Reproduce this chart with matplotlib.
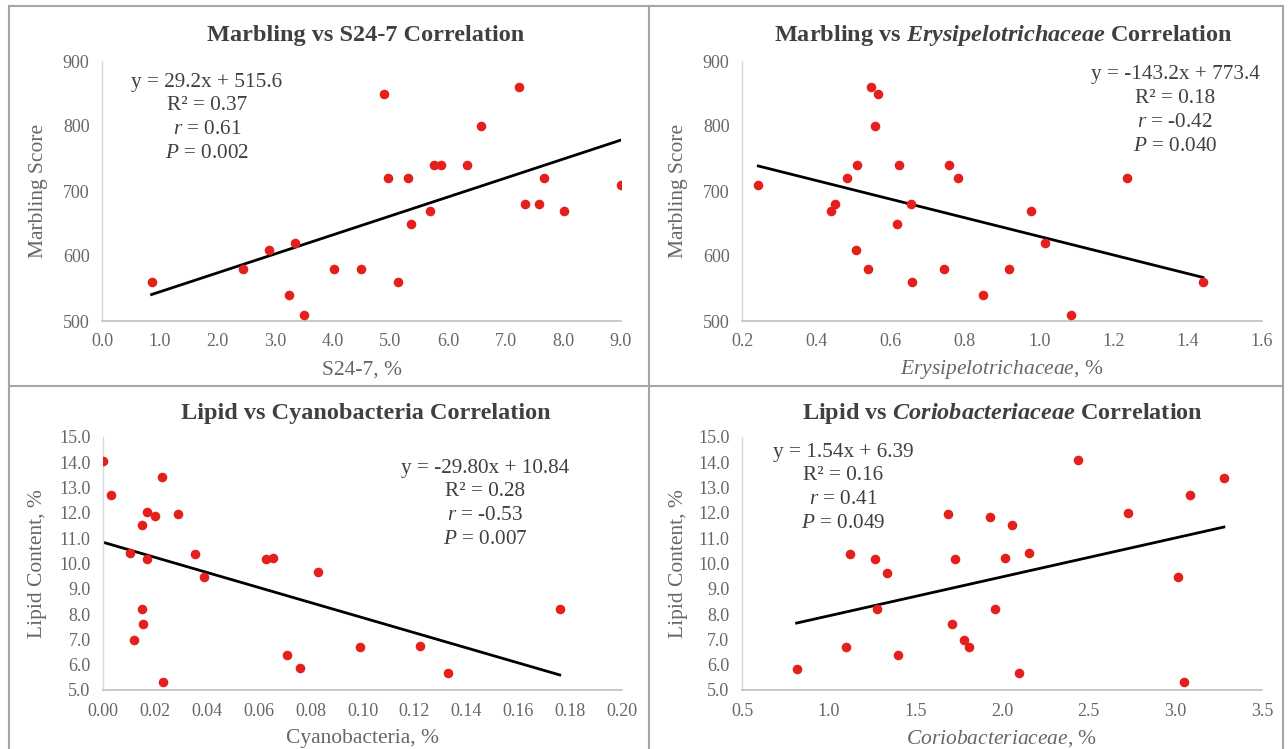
import numpy as np
import matplotlib
matplotlib.use('Agg')
import matplotlib.pyplot as plt
from matplotlib.lines import Line2D
from matplotlib.ticker import FormatStrFormatter

plt.rcParams['font.family'] = ['Liberation Serif', 'DejaVu Serif']
plt.rcParams['mathtext.fontset'] = 'custom'
plt.rcParams['mathtext.rm'] = 'Liberation Serif'
plt.rcParams['mathtext.it'] = 'Liberation Serif:italic'
plt.rcParams['mathtext.bf'] = 'Liberation Serif:bold'
plt.rcParams['mathtext.bfit'] = 'Liberation Serif:bold:italic'

# S24-7 vs marbling
s24_x = [0.86, 2.44, 2.9, 3.25, 3.35, 3.5, 4.02, 4.49, 4.89, 4.96, 5.14, 5.31,
         5.36, 5.68, 5.75, 5.88, 6.33, 6.58, 7.23, 7.34, 7.58, 7.67, 8.01, 9.0]
s24_y = [560, 580, 610, 540, 620, 510, 580, 580, 850, 720, 560, 720,
         650, 670, 740, 740, 740, 800, 860, 680, 680, 720, 670, 710]

# Erysipelotrichaceae vs marbling
ery_x = [0.244, 0.44, 0.45, 0.483, 0.507, 0.51, 0.538, 0.548, 0.565, 0.558, 0.618, 0.622,
         0.655, 0.657, 0.744, 0.756, 0.782, 0.85, 0.918, 0.978, 1.017, 1.086, 1.237, 1.441]
ery_y = [710, 670, 680, 720, 610, 740, 580, 860, 850, 800, 650, 740,
         680, 560, 580, 740, 720, 540, 580, 670, 620, 510, 720, 560]

# Cyanobacteria vs lipid
cya_x = [0.0, 0.003, 0.0105, 0.012, 0.015, 0.015, 0.0155, 0.017, 0.017, 0.02, 0.0227, 0.023,
         0.029, 0.0355, 0.039, 0.063, 0.0655, 0.071, 0.076, 0.083, 0.099, 0.122, 0.133, 0.176]
cya_y = [14.05, 12.7, 10.43, 6.96, 11.53, 8.21, 7.61, 10.18, 12.03, 11.87, 13.4, 5.3,
         11.95, 10.36, 9.48, 10.18, 10.22, 6.4, 5.85, 9.65, 6.71, 6.72, 5.69, 8.21]

# Coriobacteriaceae vs lipid
cor_x = [0.815, 1.098, 1.124, 1.27, 1.278, 1.337, 1.4, 1.69, 1.71, 1.73, 1.78, 1.81,
         1.93, 1.96, 2.02, 2.06, 2.1, 2.155, 2.44, 2.725, 3.017, 3.05, 3.085, 3.28]
cor_y = [5.82, 6.71, 10.36, 10.17, 8.2, 9.64, 6.38, 11.95, 7.6, 10.16, 6.97, 6.71,
         11.84, 8.2, 10.2, 11.53, 5.66, 10.43, 14.08, 12.01, 9.46, 5.33, 12.72, 13.37]

fits = [(29.2, 515.6), (-143.2, 773.4), (-29.80, 10.84), (1.54, 6.39)]

titles = ['Marbling vs S24-7 Correlation',
          r'Marbling vs $\mathbfit{Erysipelotrichaceae}$ Correlation',
          'Lipid vs Cyanobacteria Correlation',
          r'Lipid vs $\mathbfit{Coriobacteriaceae}$ Correlation']
xlabels = ['S24-7, %', r'$\mathit{Erysipelotrichaceae}$, %',
           'Cyanobacteria, %', r'$\mathit{Coriobacteriaceae}$, %']
ylabels = ['Marbling Score', 'Marbling Score', 'Lipid Content, %', 'Lipid Content, %']
stats = [['y = 29.2x + 515.6', 'R² = 0.37', r'$\mathit{r}$ = 0.61', r'$\mathit{P}$ = 0.002'],
         ['y = -143.2x + 773.4', 'R² = 0.18', r'$\mathit{r}$ = -0.42', r'$\mathit{P}$ = 0.040'],
         ['y = -29.80x + 10.84', 'R² = 0.28', r'$\mathit{r}$ = -0.53', r'$\mathit{P}$ = 0.007'],
         ['y = 1.54x + 6.39', 'R² = 0.16', r'$\mathit{r}$ = 0.41', r'$\mathit{P}$ = 0.049']]

W, H = 1288, 749
fig = plt.figure(figsize=(W / 100, H / 100), dpi=100)

def fx(px):
    return px / W

def fy(py):
    return 1 - py / H

# plot areas in pixels: left, right, top, bottom
boxes = [(102, 621, 61, 321), (742, 1262, 61, 321),
         (103, 622, 437, 690), (742, 1262, 437, 690)]
xlims = [(0, 9), (0.2, 1.6), (0, 0.2), (0.5, 3.5)]
xsteps = [1.0, 0.2, 0.02, 0.5]
xfmts = ['%.1f', '%.1f', '%.2f', '%.1f']
ylims = [(500, 900), (500, 900), (5, 15), (5, 15)]
ysteps = [100, 100, 1.0, 1.0]
yfmts = ['%d', '%d', '%.1f', '%.1f']
data = [(s24_x, s24_y), (ery_x, ery_y), (cya_x, cya_y), (cor_x, cor_y)]
stat_pos = [(207, 82), (1175, 75), (485, 468), (843, 452)]
ylab_x = [38, 678, 38, 678]

grey = '#666666'
for i in range(4):
    l, r, t, b = boxes[i]
    ax = fig.add_axes([fx(l), fy(b), fx(r) - fx(l), fy(t) - fy(b)])
    x, y = data[i]
    ax.scatter(x, y, s=48, color='#e3201b', zorder=3, linewidths=0)
    m, c = fits[i]
    xx = np.array([min(x), max(x)])
    ax.plot(xx, m * xx + c, color='black', lw=2, zorder=2)
    ax.set_xlim(*xlims[i])
    ax.set_ylim(*ylims[i])
    ax.set_xticks(np.arange(xlims[i][0], xlims[i][1] + xsteps[i] / 2, xsteps[i]))
    ax.set_yticks(np.arange(ylims[i][0], ylims[i][1] + ysteps[i] / 2, ysteps[i]))
    ax.xaxis.set_major_formatter(FormatStrFormatter(xfmts[i]))
    ax.yaxis.set_major_formatter(FormatStrFormatter(yfmts[i]))
    ax.tick_params(length=0, labelsize=13, colors=grey, pad=9)
    for s in ['top', 'right']:
        ax.spines[s].set_visible(False)
    ax.spines['left'].set_color('#d9d9d9')
    ax.spines['bottom'].set_color('#bfbfbf')
    ax.spines['left'].set_linewidth(1)
    ax.spines['bottom'].set_linewidth(1.2)
    ax.set_facecolor('none')

    fig.text(fx((l + r) / 2), fy(b + 49), xlabels[i], ha='center', va='center',
             fontsize=15.5, color=grey)
    fig.text(fx(ylab_x[i]), fy((t + b) / 2), ylabels[i], ha='center', va='center',
             rotation=90, fontsize=15.5, color=grey)
    fig.text(fx([366, 1003, 366, 1003][i]), fy([35, 35, 414, 414][i]), titles[i],
             ha='center', va='center', fontsize=17.5, fontweight='bold', color='#404040')
    sx, sy = stat_pos[i]
    for k, line in enumerate(stats[i]):
        fig.text(fx(sx), fy(sy + k * 23.7), line, ha='center', va='center',
                 fontsize=15.3, color='#404040')

# panel frame lines
lc = '#a6a6a6'
fig.add_artist(Line2D([fx(9), fx(1283)], [fy(6), fy(6)], color=lc, lw=1.5))
fig.add_artist(Line2D([fx(9), fx(9)], [fy(6), 0], color=lc, lw=1.5))
fig.add_artist(Line2D([fx(1283), fx(1283)], [fy(6), 0], color=lc, lw=1.5))
fig.add_artist(Line2D([fx(649), fx(649)], [fy(6), 0], color=lc, lw=1.5))
fig.add_artist(Line2D([fx(9), fx(1283)], [fy(386), fy(386)], color=lc, lw=1.5))

fig.savefig('out.png', dpi=100)
